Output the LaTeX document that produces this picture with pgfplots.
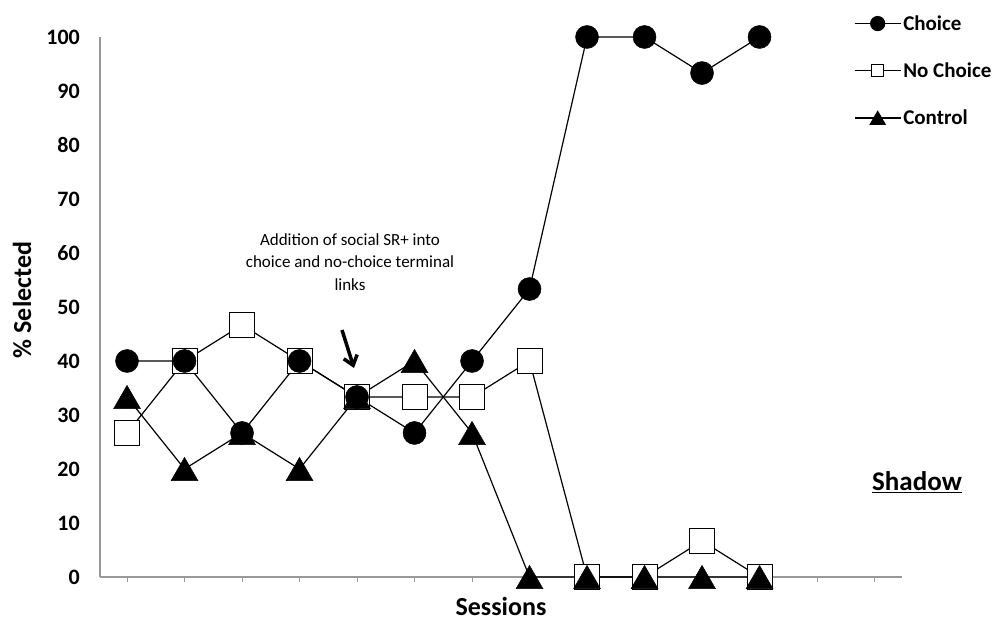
\documentclass[border=0pt]{standalone}
\usepackage{pgfplots}
\pgfplotsset{compat=1.18}
\usepackage{fontspec}
\setmainfont{Carlito}
\usetikzlibrary{arrows.meta}
\begin{document}
\begin{tikzpicture}
\useasboundingbox (0,0) rectangle (998pt,624pt);
\begin{axis}[
  at={(100pt,47pt)}, anchor=south west,
  width=802pt, height=540pt, scale only axis,
  xmin=0.53, xmax=14.478, ymin=0, ymax=100,
  clip=false,
  axis x line=bottom, axis y line=left,
  axis line style={-, draw=black!40, line width=1.3pt},
  xtick={1,...,14}, xticklabels={},
  ytick={0,10,...,100},
  tick align=outside,
  major tick length=5pt,
  x tick style={draw=black!40, line width=1pt},
  y tick style={draw=none},
  /pgf/number format/assume math mode=true,
  yticklabel style={font=\bfseries\fontsize{22}{26}\selectfont, inner sep=0pt, xshift=-15pt},
  xlabel={Sessions},
  xlabel style={font=\bfseries\fontsize{26}{30}\selectfont, at={(axis description cs:0.5,-0.054)}, anchor=center},
  ylabel={\% Selected},
  ylabel style={font=\bfseries\fontsize{26}{30}\selectfont, at={(axis description cs:-0.097,0.513)}, anchor=center},
  legend style={at={(axis description cs:0.94,1.044)}, anchor=north west, draw=none, fill=none,
    font=\bfseries\fontsize{21}{25}\selectfont, row sep=27pt, inner sep=0pt, nodes={inner sep=2pt}},
  legend cell align=left,
  legend image code/.code={\draw[mark repeat=2,mark phase=2,#1] plot coordinates {(0pt,0pt)(23pt,0pt)(46pt,0pt)};},
]
% No Choice
\addplot[black, line width=1.2pt, mark=square*, mark size=12.5pt,
  mark options={fill=white, draw=black, line width=1pt}, forget plot] coordinates {
(1,26.67)(2,40)(3,46.67)(4,40)(5,33.33)(6,33.33)(7,33.33)(8,40)(9,0)(10,0)(11,6.67)(12,0)};
% Control
\addplot[black, line width=1.2pt, mark=triangle*, mark size=15.5pt,
  mark options={fill=black, draw=black, line width=0.5pt, yshift=-3.9pt}, forget plot] coordinates {
(1,33.33)(2,20)(3,26.67)(4,20)(5,33.33)(6,40)(7,26.67)(8,0)(9,0)(10,0)(11,0)(12,0)};
% Choice
\addplot[black, line width=1.2pt, mark=*, mark size=11.5pt,
  mark options={fill=black, draw=black, line width=0.5pt}, forget plot] coordinates {
(1,40)(2,40)(3,26.67)(4,40)(5,33.33)(6,26.67)(7,40)(8,53.33)(9,100)(10,100)(11,93.33)(12,100)};
\addlegendimage{black, line width=1.2pt, mark=*, mark size=7pt, mark options={fill=black}}
\addlegendentry{Choice}
\addlegendimage{black, line width=1.2pt, mark=square*, mark size=6pt, mark options={fill=white, line width=0.8pt}}
\addlegendentry{No Choice}
\addlegendimage{black, line width=1.2pt, mark=triangle*, mark size=8.5pt, mark options={fill=black, yshift=-2pt}}
\addlegendentry{Control}
\end{axis}
\node[align=center, font=\fontsize{17}{22.5}\selectfont] at (350pt,362pt)
  {Addition of social SR+ into\\choice and no-choice terminal\\links};
\draw[line width=3.5pt, -{Straight Barb[length=9pt,width=14pt]}] (342pt,294pt) -- (354pt,256pt);
\node[font=\bfseries\fontsize{27}{30}\selectfont] at (917pt,142pt) {\underline{Shadow}};
\end{tikzpicture}
\end{document}
